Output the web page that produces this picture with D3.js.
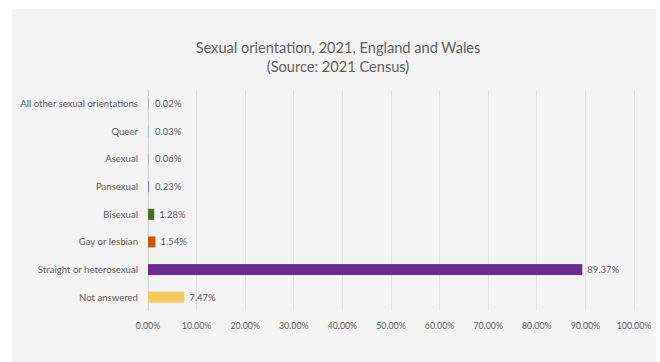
<!DOCTYPE html>
<html><head><meta charset="utf-8">
<script src="https://cdn.jsdelivr.net/npm/d3@7"></script>
<style>body{margin:0;background:#fff;}svg{display:block;}</style>
</head><body>
<svg id="c" width="660" height="362"></svg>
<script>
const categories = ["All other sexual orientations","Queer","Asexual","Pansexual","Bisexual","Gay or lesbian","Straight or heterosexual","Not answered"];
const values = [0.02, 0.03, 0.06, 0.23, 1.28, 1.54, 89.37, 7.47];
const colors = ["#9e9e9e","#8faadc","#a5a5a5","#7b7bd8","#4e6b2e","#c55a11","#6a2c91","#f4c95d"];
const ticks = [0,10,20,30,40,50,60,70,80,90,100];
const titleLines = ["Sexual orientation, 2021, England and Wales","(Source: 2021 Census)"];

const svg = d3.select("#c");
const font = "Lato, 'Open Sans', sans-serif";
svg.append("rect").attr("x",12).attr("y",9).attr("width",644).attr("height",353).attr("fill","#f4f4f4");

const x = d3.scaleLinear().domain([0,100]).range([148,634]);
const y = d3.scaleBand().domain(categories).range([90,311]).paddingInner(0.6).paddingOuter(0.3);

// gridlines
svg.append("g").selectAll("line").data(ticks).join("line")
  .attr("x1",d=>x(d)).attr("x2",d=>x(d)).attr("y1",90).attr("y2",311)
  .attr("stroke",d=>d===0?"#d0d0d0":"#e2e2e2").attr("stroke-width",1).attr("shape-rendering","crispEdges");

// title
svg.append("g").selectAll("text").data(titleLines).join("text")
  .attr("x",338).attr("y",(d,i)=>53+i*19).attr("text-anchor","middle")
  .attr("font-family",font).attr("font-size",14.6).attr("fill","#606060").text(d=>d);

// bars
svg.append("g").selectAll("rect").data(categories).join("rect")
  .attr("x",x(0)).attr("y",d=>y(d)+y.bandwidth()/2-5.5)
  .attr("width",(d,i)=>Math.max(x(values[i])-x(0),0.6)).attr("height",11)
  .attr("fill",(d,i)=>colors[i]);

// value labels
svg.append("g").selectAll("text").data(categories).join("text")
  .attr("x",(d,i)=>Math.max(x(values[i]),x(0)+2)+5)
  .attr("y",d=>y(d)+y.bandwidth()/2).attr("dy","0.35em")
  .attr("font-family",font).attr("font-size",9.5).attr("fill","#606060")
  .text((d,i)=>values[i].toFixed(2)+"%");

// category axis labels
svg.append("g").selectAll("text").data(categories).join("text")
  .attr("x",138).attr("y",d=>y(d)+y.bandwidth()/2).attr("dy","0.35em").attr("text-anchor","end")
  .attr("font-family",font).attr("font-size",9.6).attr("fill","#606060").text(d=>d);

// x tick labels
svg.append("g").selectAll("text").data(ticks).join("text")
  .attr("x",d=>x(d)).attr("y",326).attr("dy","0.35em").attr("text-anchor","middle")
  .attr("font-family",font).attr("font-size",8.8).attr("fill","#606060").text(d=>d.toFixed(2)+"%");
</script>
</body></html>
